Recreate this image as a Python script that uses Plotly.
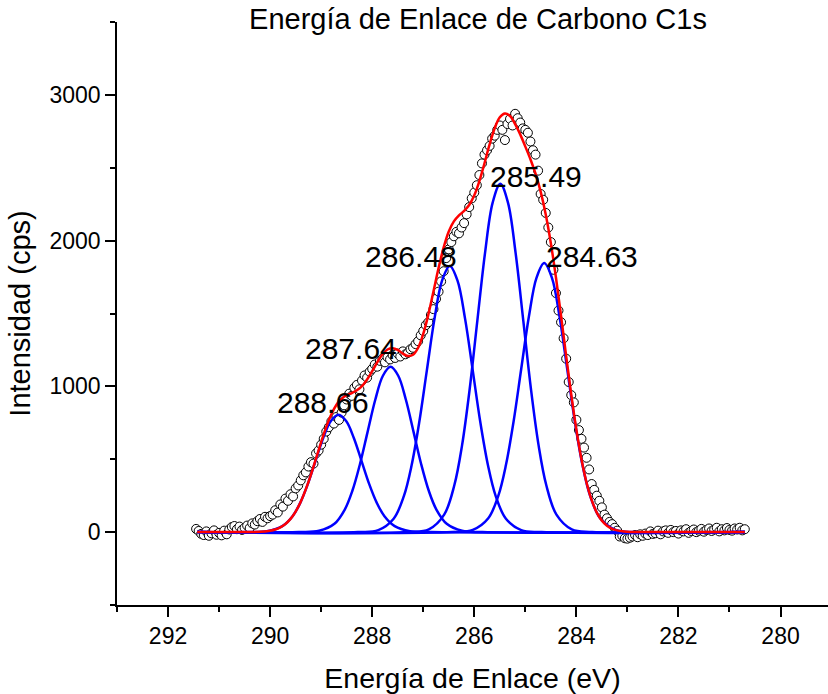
import plotly.graph_objects as go

# ---------------- measured spectrum (open circles) ----------------
energy = [
    291.45, 291.40, 291.35, 291.30, 291.25, 291.20, 291.15, 291.10, 291.05, 291.00,
    290.95, 290.90, 290.85, 290.80, 290.75, 290.70, 290.65, 290.60, 290.55, 290.50,
    290.45, 290.40, 290.35, 290.30, 290.25, 290.20, 290.15, 290.10, 290.05, 290.00,
    289.95, 289.90, 289.85, 289.80, 289.75, 289.70, 289.65, 289.60, 289.55, 289.50,
    289.45, 289.40, 289.35, 289.30, 289.25, 289.20, 289.15, 289.10, 289.05, 289.00,
    288.95, 288.90, 288.85, 288.80, 288.75, 288.70, 288.65, 288.60, 288.55, 288.50,
    288.45, 288.40, 288.35, 288.30, 288.25, 288.20, 288.15, 288.10, 288.05, 288.00,
    287.95, 287.90, 287.85, 287.80, 287.75, 287.70, 287.65, 287.60, 287.55, 287.50,
    287.45, 287.40, 287.35, 287.30, 287.25, 287.20, 287.15, 287.10, 287.05, 287.00,
    286.95, 286.90, 286.85, 286.80, 286.75, 286.70, 286.65, 286.60, 286.55, 286.50,
    286.45, 286.40, 286.35, 286.30, 286.25, 286.20, 286.15, 286.10, 286.05, 286.00,
    285.95, 285.90, 285.85, 285.80, 285.75, 285.70, 285.65, 285.60, 285.55, 285.50,
    285.45, 285.40, 285.35, 285.30, 285.25, 285.20, 285.15, 285.10, 285.05, 285.00,
    284.95, 284.90, 284.85, 284.80, 284.75, 284.70, 284.65, 284.60, 284.55, 284.50,
    284.45, 284.40, 284.35, 284.30, 284.25, 284.20, 284.15, 284.10, 284.05, 284.00,
    283.95, 283.90, 283.85, 283.80, 283.75, 283.70, 283.65, 283.60, 283.55, 283.50,
    283.45, 283.40, 283.35, 283.30, 283.25, 283.20, 283.15, 283.10, 283.05, 283.00,
    282.95, 282.90, 282.85, 282.80, 282.75, 282.70, 282.65, 282.60, 282.55, 282.50,
    282.45, 282.40, 282.35, 282.30, 282.25, 282.20, 282.15, 282.10, 282.05, 282.00,
    281.95, 281.90, 281.85, 281.80, 281.75, 281.70, 281.65, 281.60, 281.55, 281.50,
    281.45, 281.40, 281.35, 281.30, 281.25, 281.20, 281.15, 281.10, 281.05, 281.00,
    280.95, 280.90, 280.85, 280.80, 280.75, 280.70,
]
intensity = [
    22, 8, -12, -20, 5, -25, -8, 12, -18, -5,
    -22, 10, -15, 18, 35, 42, 20, 38, 15, 30,
    45, 28, 60, 52, 75, 90, 70, 105, 95, 110,
    120, 150, 135, 190, 175, 230, 215, 260, 245, 300,
    320, 355, 390, 410, 450, 480, 470, 540, 560, 600,
    640, 690, 720, 760, 745, 790, 770, 820, 870, 910,
    950, 935, 990, 1010, 980, 1040, 1075, 1060, 1100, 1120,
    1150, 1135, 1175, 1190, 1165, 1200, 1185, 1215, 1195, 1225,
    1205, 1240, 1220, 1230, 1255, 1265, 1290, 1310, 1350, 1380,
    1420, 1440, 1490, 1530, 1600, 1650, 1720, 1790, 1880, 1940,
    1990, 2030, 2060, 2050, 2090, 2120, 2180, 2230, 2290, 2330,
    2380, 2450, 2530, 2590, 2620, 2650, 2700, 2720, 2760, 2790,
    2760, 2690, 2800, 2835, 2790, 2870, 2840, 2810, 2770, 2760,
    2740, 2680, 2620, 2590, 2480, 2320, 2280, 2190, 2090, 1990,
    1800, 1640, 1520, 1440, 1330, 1190, 1030, 940, 890, 770,
    700, 640, 580, 510, 430, 330, 290, 250, 215, 170,
    120, 95, 70, 55, 30, 10, -30, -25, -42, -45,
    -38, -30, -20, -35, -15, -25, -10, -20, 5, -12,
    -8, 10, -15, 5, 12, -5, 15, 0, 8, -10,
    12, 5, 20, -5, 8, 18, 0, 10, 22, 3,
    15, 25, 8, 18, 30, 5, 20, 12, 28, 15,
    10, 25, 18, 30, 12, 20,
]

# ---------------- fitted components (blue) ----------------
comp1_e = [291.43, 290.46, 290.06, 289.76, 289.56, 289.41, 289.26, 289.11, 288.96, 288.81, 288.66,
           288.51, 288.36, 288.21, 288.06, 287.91, 287.76, 287.56, 287.26, 286.86, 280.70]
comp1_i = [0, 0, 6, 41, 109, 201, 331, 489, 646, 762, 806,
           762, 646, 489, 331, 201, 109, 41, 6, 0, 0]
comp2_e = [291.43, 289.44, 289.04, 288.74, 288.54, 288.39, 288.24, 288.09, 287.94, 287.79, 287.64,
           287.49, 287.34, 287.19, 287.04, 286.89, 286.74, 286.54, 286.24, 285.84, 280.70]
comp2_i = [0, 0, 9, 57, 153, 282, 466, 688, 908, 1073, 1134,
           1073, 908, 688, 466, 282, 153, 57, 9, 0, 0]
comp3_e = [291.43, 288.28, 287.88, 287.58, 287.38, 287.23, 287.08, 286.93, 286.78, 286.63, 286.48,
           286.33, 286.18, 286.03, 285.88, 285.73, 285.58, 285.38, 285.08, 284.68, 280.70]
comp3_i = [0, 0, 14, 92, 247, 455, 750, 1108, 1463, 1727, 1826,
           1727, 1463, 1108, 750, 455, 247, 92, 14, 0, 0]
comp4_e = [291.43, 287.29, 286.89, 286.59, 286.39, 286.24, 286.09, 285.94, 285.79, 285.64, 285.49,
           285.34, 285.19, 285.04, 284.89, 284.74, 284.59, 284.39, 284.09, 283.69, 280.70]
comp4_i = [0, 0, 19, 120, 323, 595, 982, 1451, 1914, 2261, 2390,
           2261, 1914, 1451, 982, 595, 323, 120, 19, 0, 0]
comp5_e = [291.43, 286.43, 286.03, 285.73, 285.53, 285.38, 285.23, 285.08, 284.93, 284.78, 284.63,
           284.48, 284.33, 284.18, 284.03, 283.88, 283.73, 283.53, 283.23, 282.83, 280.70]
comp5_i = [0, 0, 15, 93, 249, 460, 759, 1121, 1479, 1746, 1846,
           1746, 1479, 1121, 759, 460, 249, 93, 15, 0, 0]

# ---------------- cumulative fit (red) ----------------
envelope_e = [291.43, 290.6, 290.4, 290.2, 290.0, 289.9, 289.8, 289.7, 289.6, 289.5, 289.4, 289.3,
              289.2, 289.1, 289.0, 288.9, 288.8, 288.7, 288.6, 288.5, 288.4, 288.3, 288.2, 288.1,
              288.0, 287.9, 287.8, 287.7, 287.6, 287.5, 287.4, 287.3, 287.2, 287.1, 287.0, 286.9,
              286.8, 286.7, 286.6, 286.5, 286.4, 286.3, 286.2, 286.1, 286.0, 285.9, 285.8, 285.7,
              285.6, 285.5, 285.4, 285.3, 285.2, 285.1, 285.0, 284.9, 284.8, 284.7, 284.6, 284.5,
              284.4, 284.3, 284.2, 284.1, 284.0, 283.9, 283.8, 283.7, 283.6, 283.5, 283.4, 283.3,
              283.2, 283.1, 283.0, 282.9, 282.8, 280.70]
envelope_i = [0, 0, 1, 2, 10, 18, 33, 56, 91, 141, 209, 295,
              395, 506, 618, 722, 809, 874, 915, 940, 954, 973, 1002, 1047,
              1104, 1166, 1220, 1253, 1262, 1250, 1225, 1209, 1217, 1265, 1360, 1493,
              1651, 1812, 1954, 2063, 2132, 2173, 2204, 2244, 2311, 2409, 2531, 2660,
              2771, 2846, 2872, 2855, 2800, 2729, 2645, 2558, 2459, 2336, 2180, 1982,
              1747, 1483, 1208, 943, 703, 500, 339, 219, 134, 79, 44, 23,
              12, 6, 3, 1, 0, 0]

# ---------------- peak labels ----------------
peak_labels = ["288.66", "287.64", "286.48", "285.49", "284.63"]
label_e = [288.96, 288.42, 287.24, 284.79, 283.70]
label_i = [890, 1262, 1894, 2437, 1894]

FONT = "Liberation Sans, Arial, sans-serif"

fig = go.Figure()
fig.add_trace(go.Scatter(
    x=energy, y=intensity, mode="markers",
    marker=dict(symbol="circle", size=9, color="white",
                line=dict(color="black", width=1)),
    showlegend=False, hoverinfo="skip"))

for ce, ci in [(comp1_e, comp1_i), (comp2_e, comp2_i), (comp3_e, comp3_i),
               (comp4_e, comp4_i), (comp5_e, comp5_i)]:
    fig.add_trace(go.Scatter(
        x=ce, y=ci, mode="lines",
        line=dict(color="#0000FF", width=2.5, shape="spline", smoothing=1.0),
        showlegend=False, hoverinfo="skip"))

fig.add_trace(go.Scatter(
    x=envelope_e, y=envelope_i, mode="lines",
    line=dict(color="#FF0000", width=2.5, shape="spline", smoothing=1.0),
    showlegend=False, hoverinfo="skip"))

for t, xe, yi in zip(peak_labels, label_e, label_i):
    fig.add_annotation(x=xe, y=yi, text=t, showarrow=False,
                       xanchor="center", yanchor="middle",
                       font=dict(family=FONT, size=30, color="black"))

axis_common = dict(
    showline=True, linecolor="black", linewidth=1.5,
    ticks="outside", ticklen=10, tickwidth=1.5, tickcolor="black",
    showgrid=False, zeroline=False, mirror=False,
    tickfont=dict(family=FONT, size=23, color="black"),
)

fig.update_layout(
    width=828, height=694,
    margin=dict(l=117, r=0, t=22, b=89),
    paper_bgcolor="white", plot_bgcolor="white",
    showlegend=False,
    title=dict(text="Energía de Enlace de Carbono C1s",
               font=dict(family=FONT, size=29, color="black"),
               x=478 / 828, xanchor="center", xref="container",
               y=1 - 19 / 694, yanchor="middle", yref="container"),
    xaxis=dict(range=[293.0, 279.07], tickmode="array",
               tickvals=[292, 290, 288, 286, 284, 282, 280],
               ticktext=["292", "290", "288", "286", "284", "282", "280"],
               minor=dict(ticks="outside", ticklen=5, tickwidth=1.5, tickcolor="black",
                          tickmode="array",
                          tickvals=[293, 291, 289, 287, 285, 283, 281]),
               title=dict(text="Energía de Enlace (eV)",
                          font=dict(family=FONT, size=28.5, color="black"), standoff=22),
               **axis_common),
    yaxis=dict(range=[-500, 3500], tickmode="array",
               tickvals=[0, 1000, 2000, 3000],
               ticktext=["0", "1000", "2000", "3000"],
               minor=dict(ticks="outside", ticklen=5, tickwidth=1.5, tickcolor="black",
                          tickmode="array", tickvals=[-500, 500, 1500, 2500, 3500]),
               title=dict(text="Intensidad (cps)",
                          font=dict(family=FONT, size=29, color="black"), standoff=10),
               **axis_common),
)

fig.write_html("out.html")
